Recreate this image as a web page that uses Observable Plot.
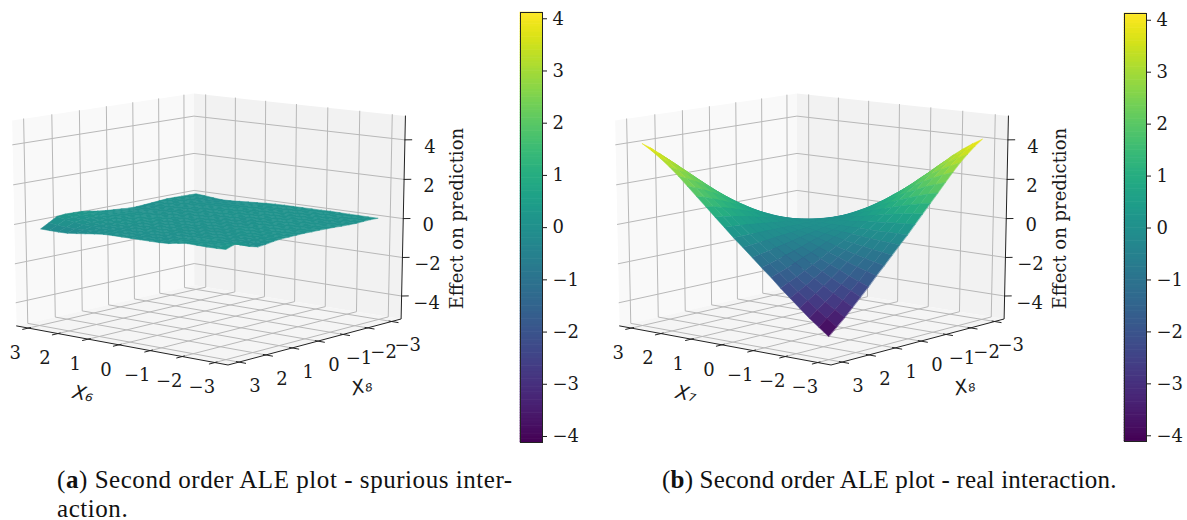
<!DOCTYPE html>
<html>
<head>
<meta charset="utf-8">
<script src="https://cdn.jsdelivr.net/npm/d3@7"></script>
<script src="https://cdn.jsdelivr.net/npm/@observablehq/plot@0.6"></script>
<style>
html,body{margin:0;padding:0;background:#fff;width:1187px;height:520px;overflow:hidden}
#root{position:relative;width:1187px;height:520px}
.cap{position:absolute;font-family:"Liberation Serif",serif;font-size:25px;line-height:29px;color:#111;white-space:nowrap}
</style>
</head>
<body>
<div id="root"></div>
<script>
const gridX = [-2.95,-2.655,-2.36,-2.065,-1.77,-1.475,-1.18,-0.885,-0.59,-0.295,0,0.295,0.59,0.885,1.18,1.475,1.77,2.065,2.36,2.655,2.95];
const gridY = gridX;
const axisTicks = [-3,-2,-1,0,1,2,3];
const zTicks = [-4,-2,0,2,4];
const barTicks = [-4,-3,-2,-1,0,1,2,3,4];
const limX = 3.4, limY = 3.4, limZ = 5.2;

// Effect surface, panel (a): one row per gridY value, one column per gridX value
const surfaceA = [
[.04,.04,.05,.05,.06,.07,.06,.06,.06,.06,.06,.05,.03,0,-.03,-.06,-.09,-.10,-.06,-.01,.03],
[.05,.04,.05,.04,.05,.06,.05,.06,.05,.05,.04,.05,.03,.02,-.01,-.03,-.05,-.06,-.03,.01,.04],
[.04,.05,.04,.05,.04,.05,.06,.05,.04,.05,.04,.03,.04,.02,.01,-.01,-.02,-.03,-.01,.02,.05],
[.02,.03,.04,.03,.04,.04,.05,.04,.05,.04,.03,.04,.03,.03,.02,.01,0,-.01,.01,.03,.06],
[.03,.03,.02,.04,.03,.04,.03,.04,.04,.03,.04,.03,.04,.03,.03,.02,.02,.01,.02,.04,.06],
[.04,.04,.03,.03,.04,.03,.04,.03,.03,.04,.03,.04,.03,.03,.02,.03,.02,.02,.02,.03,.03],
[.06,.05,.04,.03,.03,.04,.03,.03,.04,.03,.03,.03,.04,.03,.03,.02,.03,.02,.02,.01,0],
[.07,.06,.05,.04,.03,.03,.04,.03,.03,.03,.04,.03,.03,.02,.03,.02,.02,.01,.01,0,-.03],
[.08,.06,.05,.05,.04,.03,.03,.04,.03,.03,.03,.02,.03,.03,.02,.02,.01,.01,0,-.02,-.05],
[.08,.07,.06,.05,.04,.04,.03,.03,.02,.03,.03,.03,.02,.02,.03,.02,.02,.01,0,-.02,-.05],
[.09,.07,.06,.05,.05,.04,.03,.03,.03,.02,.03,.02,.03,.02,.02,.03,.02,.02,.01,0,-.01],
[.08,.07,.06,.05,.04,.04,.03,.02,.03,.02,.02,.03,.02,.03,.03,.03,.03,.03,.03,.03,.02],
[.07,.06,.05,.05,.04,.03,.03,.02,.02,.02,.03,.02,.02,.03,.04,.04,.04,.05,.05,.05,.06],
[.06,.05,.05,.04,.04,.03,.02,.02,.01,.02,.02,.02,.03,.03,.04,.05,.06,.07,.08,.09,.11],
[.02,.03,.03,.03,.03,.02,.02,.01,.01,.01,.02,.02,.02,.03,.04,.05,.07,.09,.11,.15,.19],
[-.04,0,.01,.02,.02,.02,.01,.01,0,.01,.01,.01,.02,.02,.03,.05,.07,.10,.14,.19,.25],
[-.08,-.03,0,.02,.03,.02,.01,0,0,0,.01,0,.01,.01,.02,.03,.05,.08,.13,.20,.26],
[.02,.03,.04,.05,.05,.03,.01,0,-.01,0,-.01,0,0,0,0,.01,.02,.05,.11,.19,.27],
[.30,.18,.10,.09,.08,.05,.02,0,-.01,-.01,-.01,-.01,-.01,-.01,-.02,-.02,-.02,0,.06,.14,.23],
[.27,.16,.12,.11,.11,.06,.01,-.01,-.02,-.02,-.02,-.02,-.02,-.03,-.05,-.07,-.10,-.12,-.11,-.08,-.02],
[.13,.11,.11,.12,.13,.07,-.01,-.03,-.03,-.03,-.03,-.03,-.03,-.04,-.09,-.15,-.21,-.26,-.27,-.26,-.25]
];

// Effect surface, panel (b)
const surfaceB = [
[4.05,3.77,3.44,3.08,2.67,2.23,1.78,1.34,.89,.45,0,-.41,-.84,-1.27,-1.68,-2.13,-2.54,-2.95,-3.36,-3.73,-4.10],
[3.77,3.51,3.20,2.86,2.48,2.07,1.66,1.25,.83,.41,0,-.37,-.76,-1.16,-1.53,-1.94,-2.31,-2.68,-3.06,-3.39,-3.73],
[3.44,3.20,2.92,2.62,2.27,1.90,1.51,1.14,.76,.38,0,-.34,-.69,-1.04,-1.38,-1.75,-2.08,-2.42,-2.76,-3.06,-3.36],
[3.08,2.86,2.62,2.34,2.03,1.69,1.35,1.02,.68,.34,0,-.30,-.60,-.91,-1.21,-1.53,-1.83,-2.12,-2.42,-2.68,-2.95],
[2.67,2.48,2.27,2.03,1.76,1.47,1.17,.88,.59,.30,0,-.25,-.52,-.79,-1.04,-1.32,-1.57,-1.83,-2.08,-2.31,-2.54],
[2.23,2.07,1.90,1.69,1.47,1.23,.98,.74,.49,.25,0,-.21,-.44,-.66,-.87,-1.11,-1.32,-1.53,-1.75,-1.94,-2.13],
[1.78,1.66,1.51,1.35,1.17,.98,.78,.59,.39,.20,0,-.17,-.34,-.52,-.69,-.87,-1.04,-1.21,-1.38,-1.53,-1.68],
[1.34,1.25,1.14,1.02,.88,.74,.59,.44,.29,.15,0,-.13,-.26,-.39,-.52,-.66,-.79,-.91,-1.04,-1.16,-1.27],
[.89,.83,.76,.68,.59,.49,.39,.29,.20,.10,0,-.08,-.17,-.26,-.34,-.44,-.52,-.60,-.69,-.76,-.84],
[.45,.41,.38,.34,.30,.25,.20,.15,.10,.05,0,-.04,-.08,-.13,-.17,-.21,-.25,-.30,-.34,-.37,-.41],
[0,0,0,0,0,0,0,0,0,0,0,0,0,0,0,0,0,0,0,0,0],
[-.41,-.37,-.34,-.30,-.25,-.21,-.17,-.13,-.08,-.04,0,.05,.10,.15,.20,.25,.30,.34,.38,.41,.45],
[-.84,-.76,-.69,-.60,-.52,-.44,-.34,-.26,-.17,-.08,0,.10,.20,.29,.39,.49,.59,.68,.76,.83,.89],
[-1.27,-1.16,-1.04,-.91,-.79,-.66,-.52,-.39,-.26,-.13,0,.15,.29,.44,.59,.74,.88,1.02,1.14,1.25,1.34],
[-1.68,-1.53,-1.38,-1.21,-1.04,-.87,-.69,-.52,-.34,-.17,0,.20,.39,.59,.78,.98,1.17,1.35,1.51,1.66,1.78],
[-2.13,-1.94,-1.75,-1.53,-1.32,-1.11,-.87,-.66,-.44,-.21,0,.25,.49,.74,.98,1.23,1.47,1.69,1.90,2.07,2.23],
[-2.54,-2.31,-2.08,-1.83,-1.57,-1.32,-1.04,-.79,-.52,-.25,0,.30,.59,.88,1.17,1.47,1.76,2.03,2.27,2.48,2.67],
[-2.95,-2.68,-2.42,-2.12,-1.83,-1.53,-1.21,-.91,-.60,-.30,0,.34,.68,1.02,1.35,1.69,2.03,2.34,2.62,2.86,3.08],
[-3.36,-3.06,-2.76,-2.42,-2.08,-1.75,-1.38,-1.04,-.69,-.34,0,.38,.76,1.14,1.51,1.90,2.27,2.62,2.92,3.20,3.44],
[-3.73,-3.39,-3.06,-2.68,-2.31,-1.94,-1.53,-1.16,-.76,-.37,0,.41,.83,1.25,1.66,2.07,2.48,2.86,3.20,3.51,3.77],
[-4.10,-3.73,-3.36,-2.95,-2.54,-2.13,-1.68,-1.27,-.84,-.41,0,.45,.89,1.34,1.78,2.23,2.67,3.08,3.44,3.77,4.05]
];

const colorDomain = [-4.12, 4.12];
const serif = '"DejaVu Serif", serif';
const sans = '"DejaVu Sans", sans-serif';
const minus = d => d < 0 ? "\u2212" + Math.abs(d) : String(d);

// mplot3d-style camera
const elev = 13 * Math.PI / 180, azim = 130 * Math.PI / 180, dist = 10;
const n = [Math.cos(elev)*Math.cos(azim), Math.cos(elev)*Math.sin(azim), Math.sin(elev)];
const ul = Math.hypot(n[0], n[1]);
const u = [-n[1]/ul, n[0]/ul, 0];
const v = [n[1]*u[2]-n[2]*u[1], n[2]*u[0]-n[0]*u[2], n[0]*u[1]-n[1]*u[0]];
const dot = (a,b) => a[0]*b[0]+a[1]*b[1]+a[2]*b[2];
function project(x, y, z) {
  const c = [x/(2*limX), y/(2*limY), z/(2*limZ)];
  const d = dot(n, c), f = dist/(dist-d);
  return {px: dot(u,c)*f, py: dot(v,c)*f, depth: d};
}
const pt = (x,y,z,extra) => ({...project(x,y,z), ...extra});

function polyline(points, id) { return points.map(p => pt(p[0],p[1],p[2],{id})); }

function panel3D({rows, xName, left, top}) {
  const facets = [];
  for (let j = 0; j < gridY.length-1; j++) for (let i = 0; i < gridX.length-1; i++) {
    const q = [[i,j],[i+1,j],[i+1,j+1],[i,j+1]].map(([a,b]) => [gridX[a],gridY[b],rows[b][a]]);
    const mean = d3.mean(q, p => p[2]);
    const pts = q.map(p => project(p[0],p[1],p[2]));
    facets.push({id:`${i}-${j}`, value:mean, depth:d3.mean(pts,p=>p.depth), pts});
  }
  facets.sort((a,b) => a.depth-b.depth);
  const surface = facets.flatMap(f => f.pts.map(p => ({...p, id:f.id, value:f.value})));

  const paneX = polyline([[limX,limY,-limZ],[limX,-limY,-limZ],[limX,-limY,limZ],[limX,limY,limZ]],"x");
  const paneY = polyline([[limX,-limY,-limZ],[-limX,-limY,-limZ],[-limX,-limY,limZ],[limX,-limY,limZ]],"y");
  const paneZ = polyline([[limX,limY,-limZ],[-limX,limY,-limZ],[-limX,-limY,-limZ],[limX,-limY,-limZ]],"z");

  const grid = [
    ...axisTicks.flatMap(t => polyline([[t,limY,-limZ],[t,-limY,-limZ],[t,-limY,limZ]],"gx"+t)),
    ...axisTicks.flatMap(t => polyline([[-limX,t,-limZ],[limX,t,-limZ],[limX,t,limZ]],"gy"+t)),
    ...zTicks.flatMap(t => polyline([[limX,limY,t],[limX,-limY,t],[-limX,-limY,t]],"gz"+t))
  ];
  const axes = [
    ...polyline([[limX,limY,-limZ],[-limX,limY,-limZ],[-limX,-limY,-limZ],[-limX,-limY,limZ]],"axis"),
    ...axisTicks.flatMap(t => polyline([[t,limY-0.08,-limZ],[t,limY+0.2,-limZ]],"tx"+t)),
    ...axisTicks.flatMap(t => polyline([[-limX+0.08,t,-limZ],[-limX-0.2,t,-limZ]],"ty"+t)),
    ...zTicks.flatMap(t => polyline([[-limX,-limY,t],[-limX-0.12,-limY-0.12,t]],"tz"+t))
  ];
  const xLabels = axisTicks.map(t => pt(t,limY,-limZ,{t}));
  const yLabels = axisTicks.map(t => pt(-limX,t,-limZ,{t}));
  const zLabels = zTicks.map(t => pt(-limX,-limY,t,{t}));
  const xTitle = [pt(0.35,limY,-limZ,{t:xName})];
  const yTitle = [pt(-limX,0.55,-limZ,{t:"X\u2088"})];

  const line = (data, o) => Plot.line(data, {x:"px", y:"py", z:"id", curve:"linear", ...o});
  const closed = (data, fill) => Plot.line(data, {x:"px", y:"py", z:"id", curve:"linear-closed", fill, stroke:"none"});
  const label = (data, o) => Plot.text(data, {x:"px", y:"py", text:d=>minus(d.t), fontFamily:serif, fontSize:18, fill:"#1a1a1a", ...o});

  return Plot.plot({
    width:500, height:460, margin:0,
    style:{position:"absolute", left:left+"px", top:top+"px", background:"none", overflow:"visible"},
    x:{domain:[-1,1], range:[209.5-276, 209.5+276], axis:null},
    y:{domain:[-1,1], range:[221+209.5, 221-209.5], axis:null},
    color:{type:"linear", scheme:"viridis", domain:colorDomain},
    marks:[
      closed(paneX,"#f9f9f9"), closed(paneY,"#f2f2f2"), closed(paneZ,"#f5f5f5"),
      line(grid,{stroke:"#b8b8b8", strokeWidth:1}),
      line(axes,{stroke:"#222", strokeWidth:1}),
      Plot.line(surface,{x:"px", y:"py", z:"id", curve:"linear-closed", fill:"value", stroke:"value", strokeWidth:0.5}),
      label(xLabels,{dx:-13, dy:25}),
      label(yLabels,{dx:16, dy:24}),
      label(zLabels,{dx:25, dy:7}),
      Plot.text(xTitle,{x:"px", y:"py", text:"t", dx:-25, dy:51, rotate:12, fontFamily:sans, fontStyle:"italic", fontSize:19, fill:"#1a1a1a"}),
      Plot.text(yTitle,{x:"px", y:"py", text:"t", dx:58, dy:42, rotate:-14, fontFamily:sans, fontStyle:"italic", fontSize:19, fill:"#1a1a1a"}),
      Plot.text(zLabels.slice(2,3),{x:"px", y:"py", text:()=>"Effect on prediction", dx:54, dy:0, rotate:-90, fontFamily:serif, fontSize:18, fill:"#1a1a1a"})
    ]
  });
}

function colorbar({left, top, height, domain}) {
  const edges = [domain[0], ...d3.ticks(domain[0], domain[1], 256).filter(e => e > domain[0] && e < domain[1]), domain[1]];
  const bins = edges.slice(0,-1).map((e,i) => ({y1:e, y2:edges[i+1]}));
  return Plot.plot({
    width:70, height, marginLeft:1, marginRight:47, marginTop:1, marginBottom:1,
    style:{position:"absolute", left:left+"px", top:top+"px", background:"none", overflow:"visible", color:"#1a1a1a"},
    x:{axis:null, domain:[0,1]},
    y:{domain, label:null, axis:null},
    color:{type:"linear", scheme:"viridis", domain:colorDomain},
    marks:[
      Plot.rect(bins,{x1:0, x2:1, y1:"y1", y2:"y2", fill:d=>(d.y1+d.y2)/2, inset:-0.3}),
      Plot.frame({stroke:"#222", strokeWidth:1}),
      Plot.axisY(barTicks,{anchor:"right", tickSize:4, tickPadding:6, tickFormat:minus, label:null, fontFamily:serif, fontSize:18})
    ]
  });
}

const root = document.getElementById("root");
root.append(panel3D({rows:surfaceA, xName:"X\u2086", left:0, top:0}));
root.append(panel3D({rows:surfaceB, xName:"X\u2087", left:603, top:0}));
root.append(colorbar({left:519, top:10.7, height:432, domain:[-4.115,4.12]}));
root.append(colorbar({left:1123, top:12.3, height:430, domain:[-4.11,4.13]}));

function caption(letter, text, left, top, spacing) {
  const d = document.createElement("div");
  d.className = "cap";
  d.style.left = left+"px"; d.style.top = top+"px"; d.style.letterSpacing = spacing+"px";
  d.innerHTML = `(<b>${letter}</b>) ${text}`;
  root.append(d);
}
caption("a","Second order ALE plot - spurious inter-<br>action.",57,465,0.55);
caption("b","Second order ALE plot - real interaction.",662,465,0.2);
</script>
</body>
</html>
